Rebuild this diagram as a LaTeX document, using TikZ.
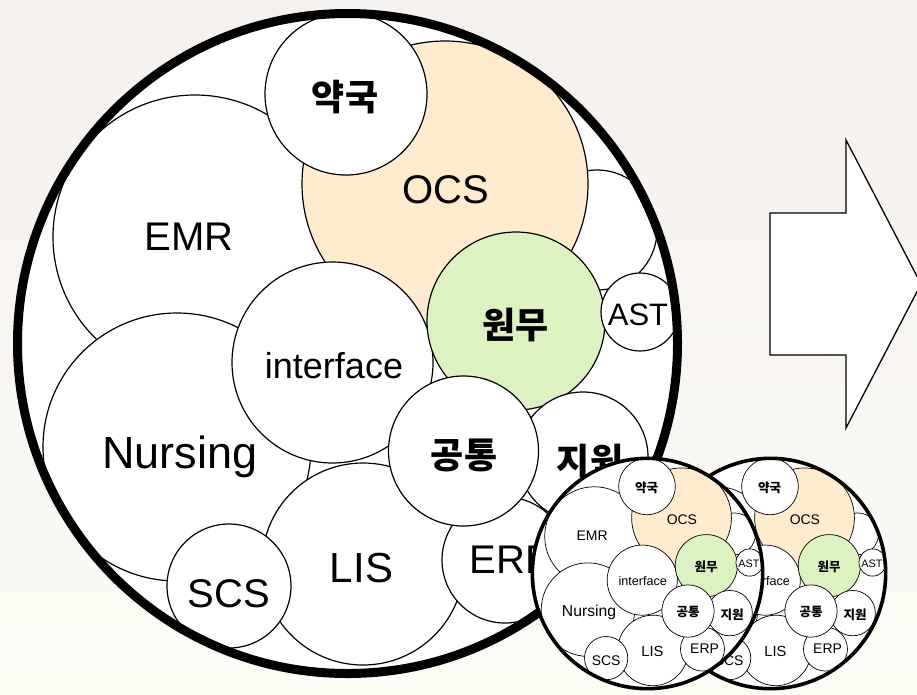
\documentclass[tikz,border=0pt]{standalone}
\usepackage{fontspec}
\setmainfont{Liberation Sans}
\newfontfamily\kr{Noto Sans CJK KR}
\definecolor{ocsfill}{RGB}{255,235,205}
\definecolor{wonfill}{RGB}{221,242,193}
\definecolor{bgtop}{RGB}{245,241,238}
\definecolor{bgmid}{RGB}{231,226,224}
\definecolor{bgbot}{RGB}{252,251,244}
\tikzset{
  lat/.style={inner sep=0pt, anchor=base, font=\fontsize{#1}{#1}\selectfont},
  han/.style={inner sep=0pt, font=\kr\bfseries\fontsize{#1}{#1}\selectfont},
  blockarrow/.style={draw=black, fill=white, line width=1.3pt, line join=miter}
}
\newcommand\mydiagram[3]{%
  \begin{scope}
    \fill[white] (347.5,343.5) circle[radius=330];
    \clip (347.5,343.5) circle[radius=330];
    \begin{scope}[every path/.style={draw=black, fill=white, line width=#2}]
      \path (597,230) circle[radius=60];
      \path (195,237) circle[radius=142];
      \path[fill=ocsfill] (445,184) circle[radius=143];
      \path (346,94) circle[radius=81];
      \path (177,447) circle[radius=134];
      \path (363,564) circle[radius=101];
      \path (332.5,362.5) circle[radius=100.5];
      \path[fill=wonfill] (516,321) circle[radius=89];
      \path (640,312) circle[radius=39];
      \path (583,457) circle[radius=65];
      \path (505,560) circle[radius=63];
      \path (463.5,451) circle[radius=75];
      \path (229,586) circle[radius=62];
    \end{scope}
    \node[han=36] (#1yak) at (345,97.5) {약국};
    \node[lat=40] (#1ocs) at (446,203) {OCS};
    \node[lat=40] (#1emr) at (189,250) {EMR};
    \node[lat=36] (#1int) at (334,378) {interface};
    \node[han=36] (#1won) at (515.5,325.5) {원무};
    \node[lat=31] (#1ast) at (638,325) {AST};
    \node[lat=45] (#1nur) at (180,468) {Nursing};
    \node[han=36] (#1gong) at (464,455) {공통};
    \node[han=36] (#1ji) at (590,461) {지원};
    \node[lat=42] (#1lis) at (361.5,582) {LIS};
    \node[lat=40] (#1scs) at (229,607) {SCS};
    \node[lat=40] (#1erp) at (511,573) {ERP};
  \end{scope}
  \draw[line width=#3] (347.5,343.5) circle[radius=330];
}
\begin{document}
\begin{tikzpicture}[x=1pt,y=-1pt]
  \useasboundingbox (0,0) rectangle (917,694);
  \clip (0,0) rectangle (917,694);
  \shade[top color=bgtop, middle color=bgmid, bottom color=bgbot] (0,0) rectangle (917,694);
  % block arrow
  \path[blockarrow] (770,213) -- (846,213) -- (846,140) -- (921,284) -- (846,428) -- (846,355) -- (770,355) -- cycle;
  % main diagram
  \mydiagram{m}{1.2pt}{9pt}
  % small copies
  \begin{scope}[shift={(770.5,573.5)}, scale=0.349, shift={(-347.5,-343.5)}, transform shape]
    \mydiagram{r}{0.7pt}{3.6pt}
  \end{scope}
  \begin{scope}[shift={(647.5,573.5)}, scale=0.349, shift={(-347.5,-343.5)}, transform shape]
    \mydiagram{l}{0.7pt}{3.6pt}
  \end{scope}
\end{tikzpicture}
\end{document}
